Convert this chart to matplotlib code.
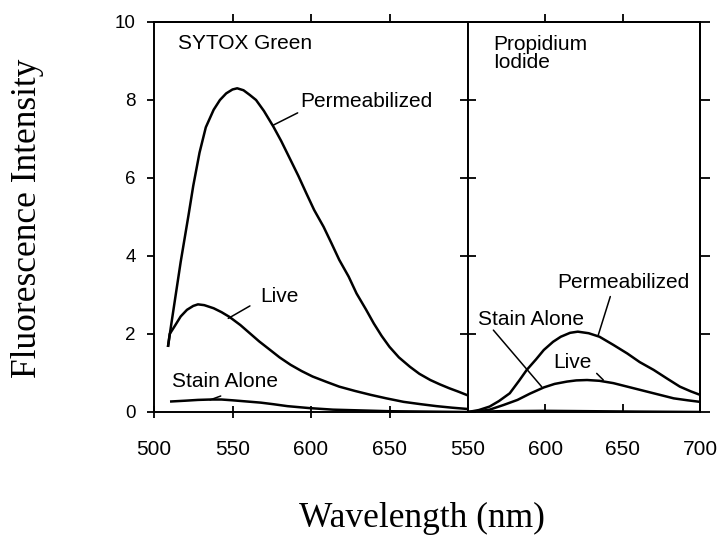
import matplotlib
matplotlib.use("Agg")
import matplotlib.pyplot as plt

SANS = "Liberation Sans"
SERIF = "Liberation Serif"

# SYTOX Green panel (wavelength nm, intensity)
SYTOX_PERM_NM = [509, 511, 514, 517, 522, 525, 529, 533, 538, 542, 546, 550, 553, 557, 561, 565,
                 570, 576, 581, 587, 592, 597, 602, 608, 613, 618, 624, 629, 635, 640, 645, 650,
                 656, 663, 669, 676, 682, 688, 694, 699]
SYTOX_PERM = [1.70, 2.25, 3.05, 3.85, 5.05, 5.8, 6.65, 7.3, 7.75, 8.0, 8.17, 8.27, 8.30, 8.25,
              8.13, 8.0, 7.72, 7.32, 6.95, 6.46, 6.05, 5.61, 5.18, 4.75, 4.33, 3.90, 3.47, 3.04,
              2.63, 2.27, 1.95, 1.67, 1.40, 1.16, 0.98, 0.82, 0.71, 0.61, 0.52, 0.44]
SYTOX_LIVE_NM = [509, 510, 513, 517, 521, 525, 528, 532, 538, 543, 548, 555, 561, 567, 574, 580,
                 587, 594, 601, 610, 618, 628, 638, 648, 659, 670, 680, 690, 699]
SYTOX_LIVE = [1.70, 2.0, 2.19, 2.45, 2.62, 2.72, 2.76, 2.74, 2.66, 2.56, 2.44, 2.23, 2.02, 1.81,
              1.59, 1.40, 1.21, 1.05, 0.91, 0.77, 0.65, 0.54, 0.44, 0.35, 0.26, 0.20, 0.15, 0.11, 0.08]
SYTOX_STAIN_NM = [511, 520, 528, 536, 543, 550, 559, 568, 576, 585, 599, 614, 632, 650, 675, 699]
SYTOX_STAIN = [0.27, 0.29, 0.31, 0.32, 0.32, 0.30, 0.27, 0.24, 0.20, 0.15, 0.10, 0.06, 0.04,
               0.02, 0.01, 0.0]

# Propidium iodide panel
PI_PERM_NM = [550, 557, 564, 570, 577, 583, 588, 594, 599, 605, 610, 616, 621, 628, 635, 644, 653,
              661, 670, 679, 687, 694, 700]
PI_PERM = [0.0, 0.05, 0.14, 0.28, 0.48, 0.80, 1.08, 1.35, 1.59, 1.80, 1.93, 2.03, 2.06, 2.02,
           1.93, 1.72, 1.50, 1.28, 1.08, 0.85, 0.65, 0.53, 0.44]
PI_LIVE_NM = [550, 557, 564, 573, 582, 590, 599, 606, 614, 620, 627, 635, 644, 655, 666, 675, 683,
              692, 700]
PI_LIVE = [0.0, 0.02, 0.06, 0.18, 0.31, 0.47, 0.63, 0.72, 0.78, 0.81, 0.82, 0.80, 0.74, 0.63,
           0.52, 0.43, 0.35, 0.30, 0.26]
PI_STAIN_NM = [550, 570, 600, 630, 660, 700]
PI_STAIN = [0.0, 0.02, 0.03, 0.02, 0.01, 0.0]

Y_TICKS = [0, 2, 4, 6, 8, 10]
LEFT_XTICKS = [500, 550, 600, 650]
RIGHT_XTICKS = [550, 600, 650, 700]

# labels: (text, x, y) and leader lines ((x0, y0), (x1, y1))
LEFT_LABELS = [("SYTOX Green", 515.3, 9.46), ("Permeabilized", 593, 7.95),
               ("Live", 567.5, 2.95), ("Stain Alone", 511.5, 0.77)]
LEFT_LEADERS = [((576.2, 7.36), (591.5, 7.67)), ((547.3, 2.40), (561.1, 2.72)),
                ((535.7, 0.31), (542.5, 0.41))]
RIGHT_LABELS = [("Propidium\nIodide", 566.2, 9.2), ("Permeabilized", 607.5, 3.31),
                ("Stain Alone", 556.5, 2.36), ("Live", 605, 1.28)]
RIGHT_LEADERS = [((634.2, 1.97), (642, 2.96)), ((566.4, 2.10), (597.6, 0.65)),
                 ((633.2, 0.99), (637.5, 0.82))]


def style_panel(ax):
    for sp in ax.spines.values():
        sp.set_linewidth(1.4)
    ax.set_ylim(0, 10)
    ax.set_yticks(Y_TICKS)
    ax.tick_params(width=1.3, colors="black")


def draw_labels(ax, labels, leaders):
    for text, x, y in labels:
        ax.text(x, y, text, fontsize=15, family=SANS, ha="left", va="center",
                linespacing=0.95)
    for (x0, y0), (x1, y1) in leaders:
        ax.annotate("", xy=(x0, y0), xytext=(x1, y1),
                    arrowprops=dict(arrowstyle="-", lw=1.1, color="black",
                                    shrinkA=0, shrinkB=0))


def main():
    fig = plt.figure(figsize=(7.21, 5.39), dpi=100)
    bottom = 1 - 412 / 539
    height = 390 / 539
    ax1 = fig.add_axes([154 / 721, bottom, 314 / 721, height])
    ax2 = fig.add_axes([468 / 721, bottom, 232 / 721, height])

    lw = 1.8
    ax1.plot(SYTOX_PERM_NM, SYTOX_PERM, color="black", lw=lw)
    ax1.plot(SYTOX_LIVE_NM, SYTOX_LIVE, color="black", lw=lw)
    ax1.plot(SYTOX_STAIN_NM, SYTOX_STAIN, color="black", lw=lw)
    ax2.plot(PI_PERM_NM, PI_PERM, color="black", lw=lw)
    ax2.plot(PI_LIVE_NM, PI_LIVE, color="black", lw=lw)
    ax2.plot(PI_STAIN_NM, PI_STAIN, color="black", lw=lw)

    style_panel(ax1)
    style_panel(ax2)
    ax1.set_xlim(500, 700)
    ax2.set_xlim(550, 700)

    # left panel ticks
    ax1.set_xticks(LEFT_XTICKS)
    ax1.set_xticklabels([str(t) for t in LEFT_XTICKS], fontsize=15, family=SANS)
    ax1.tick_params(axis="x", direction="inout", length=8, pad=16)
    ax1.set_yticklabels([str(t) for t in Y_TICKS], fontsize=13.5, family=SANS)
    ax1.tick_params(axis="y", direction="out", length=5, pad=8)
    top1 = ax1.secondary_xaxis("top")
    top1.set_xticks([550, 600, 650])
    top1.tick_params(direction="out", length=6, width=1.3, labeltop=False)
    top1.spines["top"].set_linewidth(1.4)

    # right panel ticks
    ax2.set_xticks(RIGHT_XTICKS)
    ax2.set_xticklabels([str(t) for t in RIGHT_XTICKS], fontsize=15, family=SANS)
    ax2.tick_params(axis="x", direction="in", length=6, pad=20)
    ax2.tick_params(axis="y", direction="inout", length=11, labelleft=False)
    right2 = ax2.secondary_yaxis("right")
    right2.set_yticks(Y_TICKS)
    right2.tick_params(direction="out", length=7, width=1.3, labelright=False)
    right2.spines["right"].set_linewidth(1.4)
    top2 = ax2.secondary_xaxis("top")
    top2.set_xticks([600, 650])
    top2.tick_params(direction="out", length=6, width=1.3, labeltop=False)
    top2.spines["top"].set_linewidth(1.4)

    draw_labels(ax1, LEFT_LABELS, LEFT_LEADERS)
    draw_labels(ax2, RIGHT_LABELS, RIGHT_LEADERS)

    fig.text(28 / 721, 1 - 218 / 539, "Fluorescence Intensity", rotation=90,
             fontsize=25.5, family=SERIF, ha="center", va="center")
    fig.text(422 / 721, 1 - 518 / 539, "Wavelength (nm)",
             fontsize=25.5, family=SERIF, ha="center", va="center")

    fig.savefig("out.png", dpi=100)


if __name__ == "__main__":
    main()
